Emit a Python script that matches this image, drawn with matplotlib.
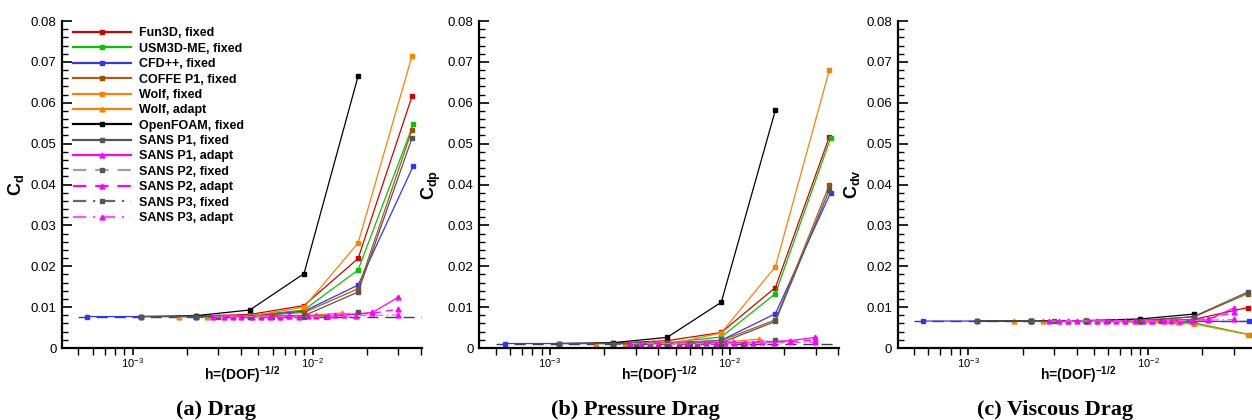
import matplotlib
matplotlib.use("Agg")
import matplotlib.pyplot as plt
from matplotlib.ticker import FuncFormatter, MultipleLocator, LogLocator

plt.rcParams['font.family'] = ['Liberation Sans', 'DejaVu Sans']
plt.rcParams['mathtext.fontset'] = 'custom'
plt.rcParams['mathtext.rm'] = 'Liberation Sans'
plt.rcParams['mathtext.bf'] = 'Liberation Sans:bold'
plt.rcParams['mathtext.it'] = 'Liberation Sans:italic'

# h = (DOF)^-1/2 and drag values
fun3d_h = [2.24e-3, 4.48e-3, 8.96e-3, 0.0179, 0.0357]
fun3d_cd = [0.0078, 0.0082, 0.0104, 0.0219, 0.0616]
fun3d_cdp = [0.0012, 0.0018, 0.0038, 0.0148, 0.0517]
fun3d_cdv = [0.0066, 0.0066, 0.0066, 0.0070, 0.0099]

usm3d_h = [2.24e-3, 4.48e-3, 8.96e-3, 0.0179, 0.0363]
usm3d_cd = [0.0077, 0.0079, 0.0093, 0.0191, 0.0548]
usm3d_cdp = [0.0011, 0.0013, 0.0027, 0.0133, 0.0514]
usm3d_cdv = [0.0066, 0.0066, 0.0066, 0.0062, 0.0033]

cfd_h = [5.6e-4, 1.12e-3, 2.24e-3, 4.48e-3, 8.96e-3, 0.0179, 0.0363]
cfd_cd = [0.0077, 0.0077, 0.0077, 0.0078, 0.0090, 0.0154, 0.0446]
cfd_cdp = [0.0011, 0.0011, 0.0011, 0.0012, 0.0019, 0.0084, 0.0380]
cfd_cdv = [0.0066, 0.0066, 0.0066, 0.0066, 0.0066, 0.0065, 0.0065]

coffe_h = [2.24e-3, 4.48e-3, 8.96e-3, 0.0179, 0.0357]
coffe_cd = [0.0077, 0.0078, 0.0087, 0.0145, 0.0534]
coffe_cdp = [0.0011, 0.0012, 0.0018, 0.0069, 0.0399]
coffe_cdv = [0.0066, 0.0066, 0.0068, 0.0076, 0.0133]

wolf_fixed_h = [4.48e-3, 8.96e-3, 0.0179, 0.0357]
wolf_fixed_cd = [0.0078, 0.0100, 0.0257, 0.0715]
wolf_fixed_cdp = [0.0008, 0.0037, 0.0199, 0.0680]
wolf_fixed_cdv = [0.0068, 0.0063, 0.0059, 0.0033]

wolf_adapt_h = [1.8e-3, 2.6e-3, 3.6e-3, 5.2e-3, 7.4e-3, 0.0104, 0.0146]
wolf_adapt_cd = [0.0077, 0.0077, 0.0078, 0.0078, 0.0079, 0.0081, 0.0086]
wolf_adapt_cdp = [0.0011, 0.0011, 0.0012, 0.0013, 0.0014, 0.0016, 0.0022]
wolf_adapt_cdv = [0.0066, 0.0066, 0.0066, 0.0065, 0.0065, 0.0065, 0.0064]

openfoam_h = [1.12e-3, 2.24e-3, 4.48e-3, 8.96e-3, 0.0179]
openfoam_cd = [0.0077, 0.0079, 0.0093, 0.0182, 0.0665]
openfoam_cdp = [0.0011, 0.0013, 0.0026, 0.0112, 0.0582]
openfoam_cdv = [0.0066, 0.0066, 0.0067, 0.0071, 0.0083]

sans_p1f_h = [1.12e-3, 2.24e-3, 4.48e-3, 8.96e-3, 0.0179, 0.0357]
sans_p1f_cd = [0.0077, 0.0077, 0.0077, 0.0079, 0.0137, 0.0514]
sans_p1f_cdp = [0.0011, 0.0011, 0.0011, 0.0013, 0.0065, 0.0387]
sans_p1f_cdv = [0.0066, 0.0066, 0.0066, 0.0066, 0.0077, 0.0137]

sans_p1a_h = [3.6e-3, 5.2e-3, 7.4e-3, 0.0105, 0.0150, 0.0215, 0.0299]
sans_p1a_cd = [0.0077, 0.0077, 0.0078, 0.0079, 0.0081, 0.0087, 0.0124]
sans_p1a_cdp = [0.0011, 0.0011, 0.0012, 0.0013, 0.0015, 0.0018, 0.0026]
sans_p1a_cdv = [0.0066, 0.0066, 0.0066, 0.0066, 0.0066, 0.0069, 0.0098]

sans_p2f_h = [2.99e-3, 5.97e-3, 0.0118, 0.0179]
sans_p2f_cd = [0.0077, 0.0077, 0.0077, 0.0088]
sans_p2f_cdp = [0.0011, 0.0011, 0.0011, 0.0019]
sans_p2f_cdv = [0.0066, 0.0066, 0.0066, 0.0069]

sans_p2a_h = [3.2e-3, 4.6e-3, 6.6e-3, 9.4e-3, 0.0134, 0.0215, 0.0299]
sans_p2a_cd = [0.0077, 0.0077, 0.0077, 0.0078, 0.0080, 0.0085, 0.0095]
sans_p2a_cdp = [0.0011, 0.0011, 0.0011, 0.0012, 0.0013, 0.0016, 0.0019]
sans_p2a_cdv = [0.0066, 0.0066, 0.0066, 0.0066, 0.0067, 0.0072, 0.0087]

sans_p3f_h = [2.24e-3, 4.48e-3, 8.96e-3]
sans_p3f_cd = [0.0077, 0.0077, 0.0077]
sans_p3f_cdp = [0.0011, 0.0011, 0.0011]
sans_p3f_cdv = [0.0066, 0.0066, 0.0066]

sans_p3a_h = [2.8e-3, 4.0e-3, 5.8e-3, 8.4e-3, 0.0122, 0.0175, 0.0299]
sans_p3a_cd = [0.0077, 0.0077, 0.0077, 0.0077, 0.0078, 0.0079, 0.0081]
sans_p3a_cdp = [0.0011, 0.0011, 0.0011, 0.0011, 0.0012, 0.0013, 0.0014]
sans_p3a_cdv = [0.0066, 0.0066, 0.0066, 0.0066, 0.0066, 0.0067, 0.0070]

# reference (converged) value lines
ref_h = [5.0e-4, 0.0405]
ref_cd = [0.0077, 0.0077]
ref_cdp = [0.0011, 0.0011]
ref_cdv = [0.0066, 0.0066]

series = [
    ('Fun3D, fixed', fun3d_h, fun3d_cd, fun3d_cdp, fun3d_cdv, '#d40000', '#d40000', '-', 's'),
    ('USM3D-ME, fixed', usm3d_h, usm3d_cd, usm3d_cdp, usm3d_cdv, '#00c800', '#00c800', '-', 's'),
    ('CFD++, fixed', cfd_h, cfd_cd, cfd_cdp, cfd_cdv, '#3333ff', '#3333ff', '-', 's'),
    ('COFFE P1, fixed', coffe_h, coffe_cd, coffe_cdp, coffe_cdv, '#b05a10', '#a04d00', '-', 's'),
    ('Wolf, fixed', wolf_fixed_h, wolf_fixed_cd, wolf_fixed_cdp, wolf_fixed_cdv, '#ff8000', '#ff8000', '-', 's'),
    ('Wolf, adapt', wolf_adapt_h, wolf_adapt_cd, wolf_adapt_cdp, wolf_adapt_cdv, '#ff8000', '#ff8000', '-', '^'),
    ('OpenFOAM, fixed', openfoam_h, openfoam_cd, openfoam_cdp, openfoam_cdv, '#000000', '#000000', '-', 's'),
    ('SANS P1, fixed', sans_p1f_h, sans_p1f_cd, sans_p1f_cdp, sans_p1f_cdv, '#555555', '#555555', '-', 's'),
    ('SANS P1, adapt', sans_p1a_h, sans_p1a_cd, sans_p1a_cdp, sans_p1a_cdv, '#ff00ff', '#ff00ff', '-', '^'),
    ('SANS P2, fixed', sans_p2f_h, sans_p2f_cd, sans_p2f_cdp, sans_p2f_cdv, '#a0a0a0', '#555555', (0, (6, 4)), 's'),
    ('SANS P2, adapt', sans_p2a_h, sans_p2a_cd, sans_p2a_cdp, sans_p2a_cdv, '#ff00ff', '#ff00ff', (0, (6, 4)), '^'),
    ('SANS P3, fixed', sans_p3f_h, sans_p3f_cd, sans_p3f_cdp, sans_p3f_cdv, '#666666', '#555555', (0, (6, 3, 1, 3)), 's'),
    ('SANS P3, adapt', sans_p3a_h, sans_p3a_cd, sans_p3a_cdp, sans_p3a_cdv, '#ff55ff', '#ff00ff', (0, (6, 3, 1, 3)), '^'),
]

panels = [
    (0.0495, r'$\mathbf{C_{d}}$', ref_cd, '(a) Drag', 216),
    (0.3828, r'$\mathbf{C_{dp}}$', ref_cdp, '(b) Pressure Drag', 635),
    (0.7170, r'$\mathbf{C_{dv}}$', ref_cdv, '(c) Viscous Drag', 1055),
]

fig = plt.figure(figsize=(12.52, 4.2), dpi=100)

for k, (left, ylab, ref, caption, cap_x) in enumerate(panels):
    ax = fig.add_axes([left, 0.1714, 0.2875, 0.7786])
    ax.plot(ref_h, ref, color='#404040', lw=1.0, ls=(0, (8, 5)), zorder=1)
    for name, h, cd, cdp, cdv, lc, mc, ls, mk in series:
        y = [cd, cdp, cdv][k]
        ax.plot(h, y, color=lc, ls=ls, lw=0.9, marker=mk, ms=3.5,
                mfc=mc, mec=mc, label=name)
    ax.set_xscale('log')
    ax.set_xlim(4.05e-4, 0.0405)
    ax.set_ylim(0, 0.08)
    ax.yaxis.set_major_locator(MultipleLocator(0.01))
    ax.yaxis.set_minor_locator(MultipleLocator(0.002))
    ax.yaxis.set_major_formatter(FuncFormatter(lambda v, p: '0' if abs(v) < 1e-9 else f'{v:.2f}'))
    ax.xaxis.set_major_locator(LogLocator(base=10, numticks=10))
    ax.xaxis.set_minor_locator(LogLocator(base=10, subs=range(2, 10), numticks=10))
    ax.tick_params(axis='y', which='major', direction='in', length=7, width=1.2, labelsize=9.5, pad=4)
    ax.tick_params(axis='y', which='minor', direction='in', length=4, width=1.0)
    ax.tick_params(axis='x', which='major', direction='out', length=5, width=1.2, labelsize=8, pad=1)
    ax.tick_params(axis='x', which='minor', direction='out', length=5, width=1.0)
    for s in ['top', 'right']:
        ax.spines[s].set_visible(False)
    for s in ['left', 'bottom']:
        ax.spines[s].set_linewidth(1.6)
    ax.set_ylabel(ylab, fontsize=13)
    ax.yaxis.set_label_coords(-0.10, 0.5)
    ax.set_xlabel(r'h=(DOF)$^{\mathbf{-1/2}}$', fontsize=10, fontweight='bold', labelpad=-4)
    fig.text(cap_x / 1252, 1 - 410 / 420, caption, family='Liberation Serif',
             weight='bold', fontsize=16, ha='center', va='center')
    if k == 0:
        leg = ax.legend(loc='upper left', bbox_to_anchor=(0.024, 0.988), frameon=False,
                        prop={'weight': 'bold', 'size': 9}, handlelength=4.6,
                        labelspacing=0.27, handletextpad=0.7, borderaxespad=0.0,
                        borderpad=0.2, numpoints=1)
        for lh in leg.legend_handles:
            lh.set_linewidth(1.6)

fig.savefig('out.png', dpi=100)
